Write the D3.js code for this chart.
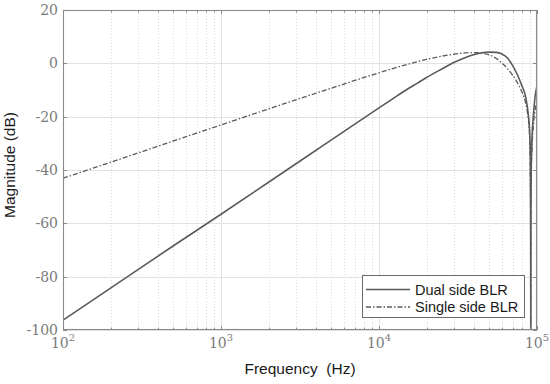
<!DOCTYPE html>
<html>
<head>
<meta charset="utf-8">
<script src="https://cdn.jsdelivr.net/npm/d3@7"></script>
<style>
  html, body { margin: 0; padding: 0; background: #fff; }
  svg { display: block; }
</style>
</head>
<body>
<svg id="chart" width="550" height="384"></svg>
<script>
// ---------- data ----------
const dualFreq = [100, 200, 500, 1000, 2000, 5000, 10000, 12000, 15000, 17500, 20000, 25000, 30000, 35000, 40000, 45000, 50000, 55000, 60000, 65000, 70000, 75000, 80000, 85000, 88000, 90000, 90700, 91100, 91300, 91500, 92000, 93000, 95000, 97000, 100000];
const dualDb   = [-96.3, -84.3, -68.4, -56.6, -44.6, -28.7, -16.7, -13.6, -9.8, -7.4, -5.3, -2.1, 0.4, 2.1, 3.3, 4.0, 4.2, 4.1, 3.5, 2.0, -0.8, -4.2, -8.2, -13.0, -19.0, -27.0, -36.0, -55.0, -100, -55.0, -38.0, -28.0, -19.0, -13.0, -8.5];

const singleFreq = [100, 200, 500, 1000, 2000, 5000, 10000, 15000, 20000, 25000, 30000, 35000, 40000, 45000, 50000, 55000, 60000, 65000, 70000, 75000, 80000, 84000, 87000, 89000, 90000, 90700, 91100, 91300, 91500, 92000, 93000, 95000, 97000, 100000];
const singleDb   = [-43.1, -37.1, -29.1, -23.1, -17.1, -9.3, -3.55, -0.45, 1.5, 2.7, 3.45, 3.9, 4.05, 3.8, 3.1, 1.9, 0.1, -2.0, -4.4, -7.2, -10.6, -14.0, -18.5, -23.5, -29.0, -40.0, -60.0, -100, -60.0, -42.0, -32.0, -23.0, -18.0, -14.0];

const seriesNames = ["Dual side BLR", "Single side BLR"];
const xTickValues = [100, 1000, 10000, 100000];
const xTickExponents = ["2", "3", "4", "5"];
const yTickValues = [-100, -80, -60, -40, -20, 0, 20];
const yTickLabels = ["-100", "-80", "-60", "-40", "-20", "0", "20"];
const xLabel = "Frequency  (Hz)";
const yLabel = "Magnitude (dB)";

// ---------- layout ----------
const L = 63, R = 537, T = 10, B = 330;
const svg = d3.select("#chart");

const x = d3.scaleLog().domain([1e2, 1e5]).range([L, R]);
const y = d3.scaleLinear().domain([-100, 20]).range([B, T]);

// minor positions
const minorX = [];
for (let d = 100; d < 100000; d *= 10) for (let k = 2; k <= 9; k++) minorX.push(d * k);

// plot background
svg.append("rect").attr("x", L).attr("y", T).attr("width", R - L).attr("height", B - T).attr("fill", "#fff");

// minor vertical grid (dotted)
svg.append("g").selectAll("line").data(minorX).join("line")
  .attr("x1", d => Math.round(x(d)) + 0.5).attr("x2", d => Math.round(x(d)) + 0.5)
  .attr("y1", T).attr("y2", B)
  .attr("stroke", "#d8d8d8").attr("stroke-width", 1).attr("stroke-dasharray", "1,2");

// major grid
svg.append("g").selectAll("line").data(xTickValues).join("line")
  .attr("x1", d => Math.round(x(d)) + 0.5).attr("x2", d => Math.round(x(d)) + 0.5)
  .attr("y1", T).attr("y2", B)
  .attr("stroke", "#e2e2e2").attr("stroke-width", 1);
svg.append("g").selectAll("line").data(yTickValues).join("line")
  .attr("x1", L).attr("x2", R)
  .attr("y1", d => Math.round(y(d)) + 0.5).attr("y2", d => Math.round(y(d)) + 0.5)
  .attr("stroke", "#e2e2e2").attr("stroke-width", 1);

// clip
svg.append("clipPath").attr("id", "clip").append("rect")
  .attr("x", L).attr("y", T).attr("width", R - L).attr("height", B - T);

const line = d3.line().x(d => x(d[0])).y(d => y(d[1])).curve(d3.curveMonotoneX);

const dual = dualFreq.map((f, i) => [f, dualDb[i]]);
const single = singleFreq.map((f, i) => [f, singleDb[i]]);

const lines = svg.append("g").attr("clip-path", "url(#clip)");
lines.append("path").datum(single).attr("d", line)
  .attr("fill", "none").attr("stroke", "#5a5a5a").attr("stroke-width", 1.3)
  .attr("stroke-dasharray", "5,2,1.5,2");
lines.append("path").datum(dual).attr("d", line)
  .attr("fill", "none").attr("stroke", "#5a5a5a").attr("stroke-width", 1.6);

// axes frame + inward ticks
const axisColor = "#8a8a8a";
const allX = xTickValues.concat(minorX);
const ax = svg.append("g");
ax.selectAll("line.tb").data(allX).join("line").attr("class", "tb")
  .attr("x1", d => Math.round(x(d)) + 0.5).attr("x2", d => Math.round(x(d)) + 0.5)
  .attr("y1", B).attr("y2", d => B - (xTickValues.includes(d) ? 4 : 2.5))
  .attr("stroke", axisColor);
ax.selectAll("line.tt").data(allX).join("line").attr("class", "tt")
  .attr("x1", d => Math.round(x(d)) + 0.5).attr("x2", d => Math.round(x(d)) + 0.5)
  .attr("y1", T).attr("y2", d => T + (xTickValues.includes(d) ? 4 : 2.5))
  .attr("stroke", axisColor);
ax.selectAll("line.tl").data(yTickValues).join("line").attr("class", "tl")
  .attr("x1", L).attr("x2", L + 4)
  .attr("y1", d => Math.round(y(d)) + 0.5).attr("y2", d => Math.round(y(d)) + 0.5)
  .attr("stroke", axisColor);
ax.selectAll("line.tr").data(yTickValues).join("line").attr("class", "tr")
  .attr("x1", R).attr("x2", R - 4)
  .attr("y1", d => Math.round(y(d)) + 0.5).attr("y2", d => Math.round(y(d)) + 0.5)
  .attr("stroke", axisColor);
ax.append("rect").attr("x", L + 0.5).attr("y", T + 0.5).attr("width", R - L - 1).attr("height", B - T - 1)
  .attr("fill", "none").attr("stroke", axisColor).attr("stroke-width", 1.1);

// tick labels
const tickFont = "'DejaVu Serif', serif";
const tickColor = "#7a7a7a";
svg.append("g").selectAll("text").data(yTickValues).join("text")
  .attr("x", L - 5).attr("y", d => y(d))
  .attr("text-anchor", "end").attr("dominant-baseline", "central")
  .attr("font-family", tickFont).attr("font-size", 14).attr("fill", tickColor)
  .text((d, i) => yTickLabels[i]);

const xt = svg.append("g").selectAll("text").data(xTickValues).join("text")
  .attr("x", d => x(d)).attr("y", 348)
  .attr("text-anchor", "middle")
  .attr("font-family", tickFont).attr("font-size", 14).attr("fill", tickColor);
xt.append("tspan").text("10");
xt.append("tspan").attr("dy", -7).attr("font-size", 10).text((d, i) => xTickExponents[i]);

// axis labels
const labelFont = "'Liberation Sans', Arial, sans-serif";
svg.append("text").attr("x", (L + R) / 2).attr("y", 374)
  .attr("text-anchor", "middle").attr("font-family", labelFont).attr("font-size", 15.5)
  .attr("fill", "#1a1a1a").attr("xml:space", "preserve").style("white-space", "pre")
  .text(xLabel);
svg.append("text").attr("transform", `translate(15,165) rotate(-90)`)
  .attr("text-anchor", "middle").attr("font-family", labelFont).attr("font-size", 15.5)
  .attr("fill", "#1a1a1a")
  .text(yLabel);

// legend
const lg = svg.append("g");
const lgX = 362, lgY = 275, lgW = 162, lgH = 42;
lg.append("rect").attr("x", lgX + 0.5).attr("y", lgY + 0.5).attr("width", lgW).attr("height", lgH)
  .attr("fill", "#fff").attr("stroke", "#6a6a6a").attr("stroke-width", 1);
const rows = [
  { name: seriesNames[0], dash: null, w: 1.6 },
  { name: seriesNames[1], dash: "5,2,1.5,2", w: 1.3 }
];
rows.forEach((r, i) => {
  const cy = 289.5 + i * 17.5;
  lg.append("line").attr("x1", 366).attr("x2", 410).attr("y1", cy).attr("y2", cy)
    .attr("stroke", "#5a5a5a").attr("stroke-width", r.w)
    .attr("stroke-dasharray", r.dash);
  lg.append("text").attr("x", 415).attr("y", cy).attr("dominant-baseline", "central")
    .attr("font-family", labelFont).attr("font-size", 14.5).attr("fill", "#1a1a1a")
    .text(r.name);
});
</script>
</body>
</html>
